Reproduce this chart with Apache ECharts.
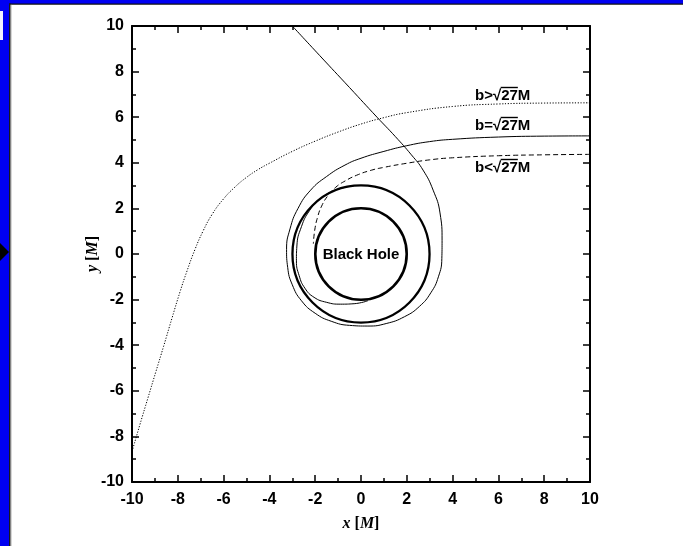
<!DOCTYPE html>
<html>
<head>
<meta charset="utf-8">
<script src="https://cdn.jsdelivr.net/npm/echarts@6/dist/echarts.min.js"></script>
<style>
  html, body { margin: 0; padding: 0; background: #fff; }
  #chart { width: 683px; height: 546px; }
</style>
</head>
<body>
<div id="chart"></div>
<script>
// Axis range in units of M
const axisMin = -10;
const axisMax = 10;
const majorStep = 2;

// Event horizon (r = 2M) and photon sphere (r = 3M)
const circleRadii = [2, 3];
const holeLabel = 'Black Hole';

// Curve captions, top to bottom
const curveNames = ['b>√27M', 'b=√27M', 'b<√27M'];

// Ray with impact parameter above critical: deflected and escapes
const deflectedRay = [
  [10, 6.63], [8, 6.62], [6, 6.58], [4, 6.47], [2, 6.2], [1, 5.98], [0, 5.7],
  [-1, 5.35], [-2, 4.95], [-3, 4.5], [-4, 3.98], [-4.5, 3.7], [-5, 3.36],
  [-5.5, 2.94], [-6.0, 2.42], [-6.5, 1.74], [-6.9, 1.0], [-7.25, 0.2],
  [-7.6, -0.75], [-7.9, -1.65], [-8.25, -2.8], [-8.62, -4.05], [-8.96, -5.17],
  [-9.3, -6.3], [-9.66, -7.5], [-10, -8.67]
];

// Ray at the critical impact parameter: one turn round the photon sphere, then out
const criticalRay = [
  [10, 5.18], [8, 5.17], [6, 5.13], [4, 5.03], [3, 4.93], [2, 4.75], [1, 4.5],
  [0, 4.2], [-0.7, 3.9], [-1.5, 3.4], [-2.2, 2.8], [-2.75, 2.0], [-3.1, 1.1],
  [-3.25, 0.2], [-3.2, -0.6], [-3.0, -1.35], [-2.6, -2.05], [-2.0, -2.6],
  [-1.3, -2.95], [-0.5, -3.13], [0.3, -3.16], [1.1, -3.05], [1.9, -2.75],
  [2.55, -2.3], [3.05, -1.7], [3.38, -1.0], [3.53, -0.2], [3.54, 0.6],
  [3.45, 1.8], [3.15, 2.8], [2.71, 3.68], [2.2, 4.35], [1.5, 5.15], [0.7, 6.0],
  [-0.5, 7.3], [-1.8, 8.7], [-3.0, 10]
];

// Critical ray that slips inside the photon sphere and falls in
const capturedRay = [
  [-0.3, 2.99], [-0.8, 2.9], [-1.3, 2.72], [-1.8, 2.4], [-2.25, 1.9], [-2.6, 1.2],
  [-2.8, 0.35], [-2.82, -0.3], [-2.7, -0.95], [-2.45, -1.5], [-2.05, -1.9],
  [-1.5, -2.12], [-0.9, -2.2], [-0.3, -2.18], [0.3, -2.05]
];

// Ray with impact parameter below critical: plunges into the hole
const plungingRay = [
  [10, 4.37], [8, 4.35], [6, 4.31], [4, 4.22], [3, 4.13], [2, 3.98], [1, 3.8],
  [0.4, 3.66], [-0.2, 3.45], [-0.7, 3.2], [-1.1, 2.93], [-1.45, 2.55],
  [-1.72, 2.1], [-1.9, 1.6], [-2.02, 1.05], [-2.08, 0.45]
];

const sansFont = '"Liberation Sans", Arial, Helvetica, sans-serif';
const serifFont = '"Liberation Serif", "Times New Roman", serif';

const chart = echarts.init(document.getElementById('chart'), null, { renderer: 'canvas' });

function axisCommon(showLabels) {
  return {
    type: 'value',
    min: axisMin,
    max: axisMax,
    interval: majorStep,
    axisLine: { show: true, onZero: false, lineStyle: { color: '#000', width: 2 } },
    axisTick: { show: true, inside: true, length: 7, lineStyle: { color: '#000', width: 1.5 } },
    minorTick: { show: true, splitNumber: 2, length: 4, lineStyle: { color: '#000', width: 1.5 } },
    splitLine: { show: false },
    minorSplitLine: { show: false },
    axisLabel: {
      show: showLabels,
      color: '#000',
      fontFamily: sansFont,
      fontWeight: 'bold',
      fontSize: 16
    }
  };
}

const nameStyle = {
  color: '#000',
  fontFamily: serifFont,
  fontWeight: 'bold',
  fontSize: 16,
  rich: {
    i: { fontFamily: serifFont, fontWeight: 'bold', fontStyle: 'italic', fontSize: 16, color: '#000' }
  }
};

const xBottom = Object.assign(axisCommon(true), {
  position: 'bottom',
  name: '{i|x} [{i|M}]',
  nameLocation: 'middle',
  nameGap: 34,
  nameMoveOverlap: false,
  nameTextStyle: nameStyle
});
xBottom.axisLabel.margin = 10;

const xTop = Object.assign(axisCommon(false), { position: 'top' });

const yLeft = Object.assign(axisCommon(true), {
  position: 'left',
  name: '{i|y} [{i|M}]',
  nameLocation: 'middle',
  nameGap: 31,
  nameMoveOverlap: false,
  nameTextStyle: nameStyle
});
yLeft.axisLabel.margin = 8;

const yRight = Object.assign(axisCommon(false), { position: 'right' });

function raySeries(points, lineType) {
  return {
    type: 'line',
    data: points,
    xAxisIndex: 0,
    yAxisIndex: 0,
    showSymbol: false,
    symbol: 'none',
    smooth: 0.5,
    clip: true,
    silent: true,
    lineStyle: { color: '#000', width: 1, type: lineType },
    z: 3
  };
}

// Width of caption parts, used to place the radical's bar over "27"
const captionFont = 'bold 15px ' + sansFont;
const measureCtx = document.createElement('canvas').getContext('2d');
measureCtx.font = captionFont;
function widthOf(s) { return measureCtx.measureText(s).width; }

const captionRows = [96, 126, 168];
const captionLeft = 475;
const captionGraphics = curveNames.map(function (name, i) {
  const rootAt = name.indexOf('√') + 1;
  const x1 = widthOf(name.slice(0, rootAt)) - 0.5;
  const x2 = widthOf(name.slice(0, rootAt + 2));
  return {
    type: 'group',
    x: captionLeft,
    y: captionRows[i],
    z: 10,
    children: [
      {
        type: 'text',
        style: {
          text: name, x: 0, y: 0, font: captionFont, fill: '#000',
          verticalAlign: 'middle', textVerticalAlign: 'middle'
        }
      },
      {
        type: 'line',
        shape: { x1: x1, y1: -8.5, x2: x2, y2: -8.5 },
        style: { stroke: '#000', lineWidth: 1.4 }
      }
    ]
  };
});

// Page frame: blue strips along the top and left edges
const frameGraphics = [
  { type: 'rect', shape: { x: 0, y: 0, width: 683, height: 4 }, style: { fill: '#0000f2' }, z: 20 },
  { type: 'rect', shape: { x: 0, y: 3.5, width: 683, height: 1.2 }, style: { fill: '#111' }, z: 21 },
  { type: 'rect', shape: { x: 0, y: 0, width: 9, height: 546 }, style: { fill: '#0000f2' }, z: 22 },
  { type: 'rect', shape: { x: 9, y: 3.5, width: 1.6, height: 542.5 }, style: { fill: '#1a1a1a' }, z: 23 },
  { type: 'rect', shape: { x: 10.6, y: 4.7, width: 0.8, height: 541.3 }, style: { fill: '#999' }, z: 23 },
  { type: 'rect', shape: { x: 0, y: 11, width: 3, height: 29 }, style: { fill: '#f4f4ff' }, z: 24 },
  { type: 'polygon', shape: { points: [[0, 243], [9, 252], [0, 261]] }, style: { fill: '#000' }, z: 24 }
];

const option = {
  animation: false,
  backgroundColor: '#fff',
  grid: { left: 132, top: 26, width: 458, height: 456, containLabel: false },
  xAxis: [xBottom, xTop],
  yAxis: [yLeft, yRight],
  series: [
    raySeries(deflectedRay, [1.2, 1.6]),
    raySeries(criticalRay, 'solid'),
    raySeries(capturedRay, 'solid'),
    raySeries(plungingRay, [5, 3]),
    {
      // Horizon and photon sphere drawn as circles centred on the origin;
      // the horizon also carries its caption
      type: 'custom',
      xAxisIndex: 0,
      yAxisIndex: 0,
      silent: true,
      clip: true,
      data: circleRadii.map(function (r) { return [0, 0, r]; }),
      renderItem: function (params, api) {
        const c = api.coord([api.value(0), api.value(1)]);
        const s = api.size([api.value(2), api.value(2)]);
        const r = (s[0] + s[1]) / 2;
        const isHorizon = api.value(2) === circleRadii[0];
        const ring = {
          type: 'circle',
          shape: { cx: c[0], cy: c[1], r: r },
          style: { fill: null, stroke: '#000', lineWidth: isHorizon ? 2.6 : 2.3 }
        };
        if (!isHorizon) return ring;
        return {
          type: 'group',
          children: [
            ring,
            {
              type: 'text',
              style: {
                text: holeLabel,
                x: c[0],
                y: c[1] + 1,
                font: 'bold 15px ' + sansFont,
                fill: '#000',
                align: 'center',
                verticalAlign: 'middle'
              }
            }
          ]
        };
      },
      z: 4
    }
  ],
  graphic: captionGraphics.concat(frameGraphics)
};

chart.setOption(option);
</script>
</body>
</html>
